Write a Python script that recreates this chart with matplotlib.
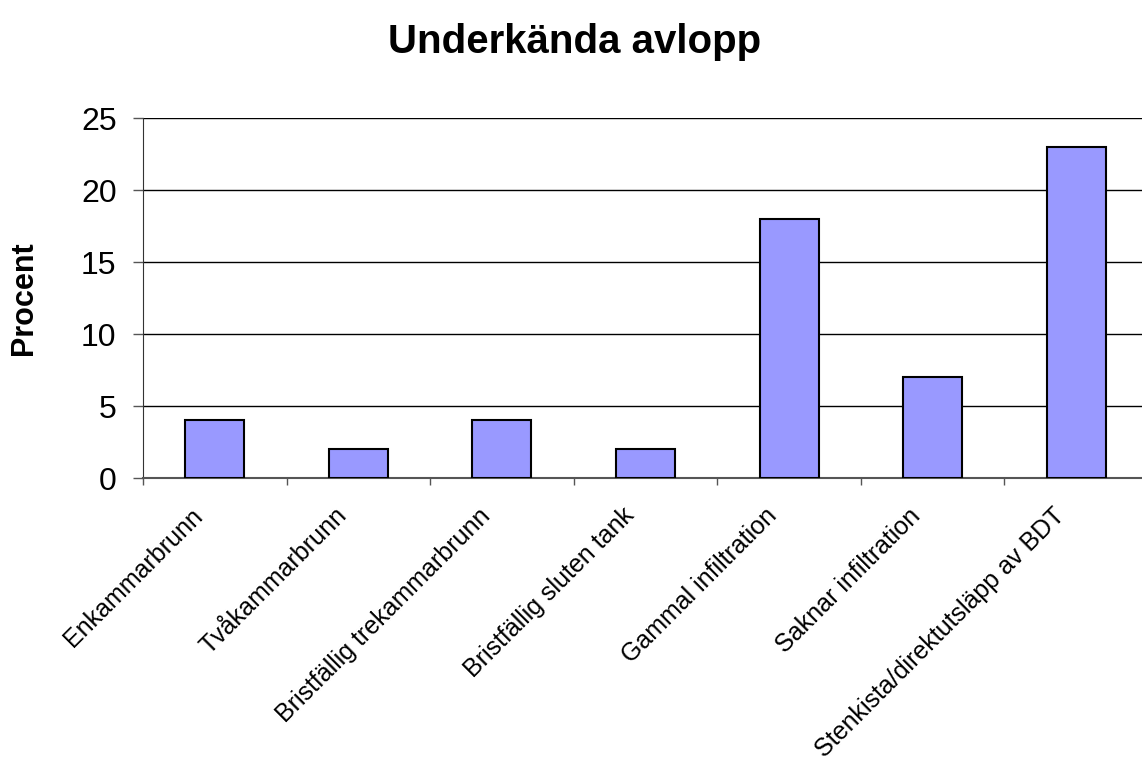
import matplotlib
matplotlib.use("Agg")
import matplotlib.pyplot as plt
import matplotlib.transforms as mtransforms
import numpy as np

categories = ["Enkammarbrunn", "Tvåkammarbrunn", "Bristfällig trekammarbrunn",
              "Bristfällig sluten tank", "Gammal infiltration", "Saknar infiltration",
              "Stenkista/direktutsläpp av BDT"]
values = [4, 2, 4, 2, 18, 7, 23]
yticks = [0, 5, 10, 15, 20, 25]

plt.rcParams['font.family'] = ['Liberation Sans', 'DejaVu Sans']

fig = plt.figure(figsize=(11.42, 7.6), dpi=100)
ax = fig.add_axes([143/1142, (760-478)/760, (1148-143)/1142, (478-118)/760])

x = np.arange(len(categories))
ax.bar(x, values, width=0.41, color="#9999FF", edgecolor="black", linewidth=1.5, zorder=3)

ax.set_xlim(-0.5, len(categories) - 0.5)
ax.set_ylim(0, 25)
ax.set_yticks(yticks)
ax.set_yticklabels([str(v) for v in yticks], fontsize=23)
ax.yaxis.grid(True, color="black", linewidth=1.0, zorder=0)
ax.tick_params(axis='y', direction='out', length=7, width=1, color="#555555", pad=12)

ax.set_xticks(x)
ax.set_xticklabels(categories, rotation=45, ha='right', va='top', rotation_mode='anchor', fontsize=18)
ax.tick_params(axis='x', which='major', length=0, pad=14)
offset = mtransforms.ScaledTranslation(-24/100, -6/100, fig.dpi_scale_trans)
for lbl in ax.get_xticklabels():
    lbl.set_transform(lbl.get_transform() + offset)
ax.set_xticks(np.arange(len(categories) + 1) - 0.5, minor=True)
ax.tick_params(axis='x', which='minor', direction='out', length=5, width=1, color="#555555")

for s in ["top", "right"]:
    ax.spines[s].set_visible(False)
ax.spines["left"].set_color("#333333")
ax.spines["bottom"].set_color("#555555")
ax.spines["bottom"].set_linewidth(1.5)

ax.set_ylabel("Procent", fontsize=22, fontweight="bold", labelpad=30)
fig.text(0.503, 0.945, "Underkända avlopp", ha="center", va="center", fontsize=29, fontweight="bold")

fig.savefig("out.png", dpi=100)
